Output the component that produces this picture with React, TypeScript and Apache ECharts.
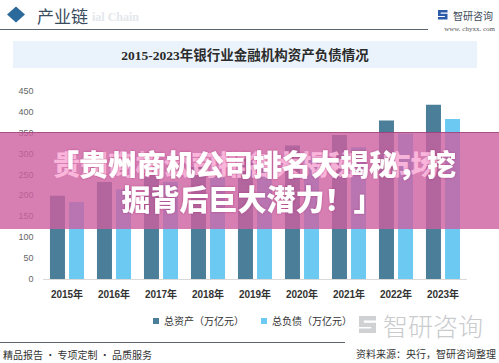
import React, { useEffect, useRef } from "react";
import * as echarts from "echarts";

const years = ["2015年", "2016年", "2017年", "2018年", "2019年", "2020年", "2021年", "2022年", "2023年"];
const totalAssets = [199.3, 232.3, 252.4, 268.2, 290.0, 319.7, 344.8, 379.4, 417.3];
const totalLiabilities = [184.1, 214.8, 232.9, 246.6, 265.5, 293.1, 315.3, 348.0, 383.1];
const seriesNames = ["总资产（万亿元）", "总负债（万亿元）"];
const yTicks = { min: 0, max: 450, interval: 50 };

const LOGO_D = "M0 0 H10 V2.6 H2.8 V4 H10 V10 H0 V7.4 H7.2 V6.4 H0 Z";
let registered = false;

export default function App() {
  const ref = useRef<HTMLDivElement>(null);
  useEffect(() => {
    document.body.style.margin = "0";
    if (!registered) {
      echarts.graphic.registerShape("logo", echarts.graphic.extendPath(LOGO_D, {}));
      registered = true;
    }
    const chart = echarts.init(ref.current!, undefined, { renderer: "svg" });
    const cjk = "'Liberation Sans', 'Noto Sans CJK SC', sans-serif";
    const serif = "'Liberation Serif', 'Noto Sans CJK SC', serif";
    chart.setOption({
      animation: false,
      backgroundColor: "#ffffff",
      grid: { left: 43.5, right: 32.5, top: 91, bottom: 84 },
      legend: {
        left: 148,
        top: 311,
        itemWidth: 6,
        itemHeight: 6,
        itemGap: 17,
        icon: "rect",
        textStyle: { fontSize: 10, color: "#333", fontFamily: cjk },
        data: seriesNames,
      },
      xAxis: {
        type: "category",
        data: years,
        axisLine: { show: true, lineStyle: { color: "#d9d9d9" } },
        axisTick: { show: false },
        axisLabel: { fontSize: 10, fontWeight: "bold", color: "#333", margin: 10, fontFamily: cjk },
      },
      yAxis: {
        type: "value",
        min: yTicks.min,
        max: yTicks.max,
        interval: yTicks.interval,
        splitLine: { show: false },
        axisLine: { show: false },
        axisTick: { show: false },
        axisLabel: { fontSize: 9, color: "#666", margin: 10, fontFamily: cjk },
      },
      series: [
        {
          name: seriesNames[0],
          type: "bar",
          data: totalAssets,
          barWidth: 15,
          barGap: "27%",
          itemStyle: { color: "#4b7e98" },
        },
        {
          name: seriesNames[1],
          type: "bar",
          data: totalLiabilities,
          barWidth: 15,
          barGap: "27%",
          itemStyle: { color: "#6ccaf2" },
        },
      ],
      graphic: [
        // header
        { type: "polygon", shape: { points: [[16, 6.5], [25, 14.5], [16, 22.5], [7, 14.5]] }, style: { fill: "#2c6a9b" } },
        { type: "text", x: 92, y: 17, style: { text: "ial Chain", font: "bold 12px 'Liberation Serif', serif", fill: "#e4e8ec", textVerticalAlign: "middle" } },
        { type: "text", x: 37, y: 15, style: { text: "产业链", font: "17px 'Noto Sans CJK SC', sans-serif", fill: "#3a4b5c", textVerticalAlign: "middle" } },
        { type: "line", shape: { x1: 0, y1: 29.5, x2: 428, y2: 29.5 }, style: { stroke: "#5b6670", lineWidth: 1 } },
        { type: "logo", x: 438, y: 10, scaleX: 0.95, scaleY: 0.95, style: { fill: "#2a5caa" } },
        { type: "text", x: 453, y: 15, style: { text: "智研咨询", font: "10px 'Noto Sans CJK SC', sans-serif", fill: "#3d4a58", textVerticalAlign: "middle" } },
        { type: "text", x: 495, y: 29, style: { text: "www. chyxx. com", font: "7px 'Liberation Serif', serif", fill: "#555", textAlign: "right", textVerticalAlign: "middle" } },
        // title box
        { type: "rect", shape: { x: 13, y: 41, width: 464, height: 27 }, style: { fill: "#eaf3fb" } },
        { type: "text", x: 245, y: 55, style: { text: "2015-2023年银行业金融机构资产负债情况", font: "bold 13.5px " + serif, fill: "#2b2b2b", textAlign: "center", textVerticalAlign: "middle" } },
        // footer
        { type: "logo", x: 359, y: 316, scaleX: 1.7, scaleY: 1.7, style: { fill: "#cfd1d3" } },
        { type: "text", x: 383, y: 325, style: { text: "智研咨询", font: "300 25px 'Noto Sans CJK SC', sans-serif", fill: "#c9cbcd", textVerticalAlign: "middle" } },
        { type: "line", shape: { x1: 0, y1: 342.5, x2: 345, y2: 342.5 }, style: { stroke: "#5b6670", lineWidth: 1 } },
        { type: "text", x: 3, y: 354, style: { text: "精品报告 · 专项定制 · 品质服务", font: "10px 'Noto Sans CJK SC', sans-serif", fill: "#333", textVerticalAlign: "middle" } },
        { type: "text", x: 496, y: 353, style: { text: "资料来源：央行，智研咨询整理", font: "10px 'Noto Sans CJK SC', sans-serif", fill: "#333", textAlign: "right", textVerticalAlign: "middle" } },
        // banner overlay
        {
          type: "group",
          z: 100,
          children: [
            { type: "rect", z: 100, shape: { x: 0, y: 132, width: 499, height: 97 }, style: { fill: "rgba(205,95,160,0.8)" } },
            { type: "line", z: 101, shape: { x1: 0, y1: 132.5, x2: 499, y2: 132.5 }, style: { stroke: "rgba(140,50,100,0.6)", lineWidth: 1 } },
            { type: "text", z: 102, x: 53, y: 163, style: { text: "贵州商机公司排名大揭秘，市场", font: "900 27.5px 'Noto Sans CJK SC', sans-serif", fill: "rgba(255,190,225,0.9)", textVerticalAlign: "middle" } },
            { type: "text", z: 103, x: 253, y: 163, style: { text: "「贵州商机公司排名大揭秘，挖", font: "900 29px 'Noto Sans CJK SC', sans-serif", fill: "#ffffff", textAlign: "center", textVerticalAlign: "middle", textShadowColor: "rgba(160,40,110,0.6)", textShadowBlur: 2 } },
            { type: "text", z: 103, x: 252, y: 198, style: { text: "掘背后巨大潜力！」", font: "900 29px 'Noto Sans CJK SC', sans-serif", fill: "#ffffff", textAlign: "center", textVerticalAlign: "middle", textShadowColor: "rgba(160,40,110,0.6)", textShadowBlur: 2 } },
          ],
        },
      ],
    });
    return () => chart.dispose();
  }, []);
  return <div ref={ref} style={{ width: 499, height: 363 }} />;
}
